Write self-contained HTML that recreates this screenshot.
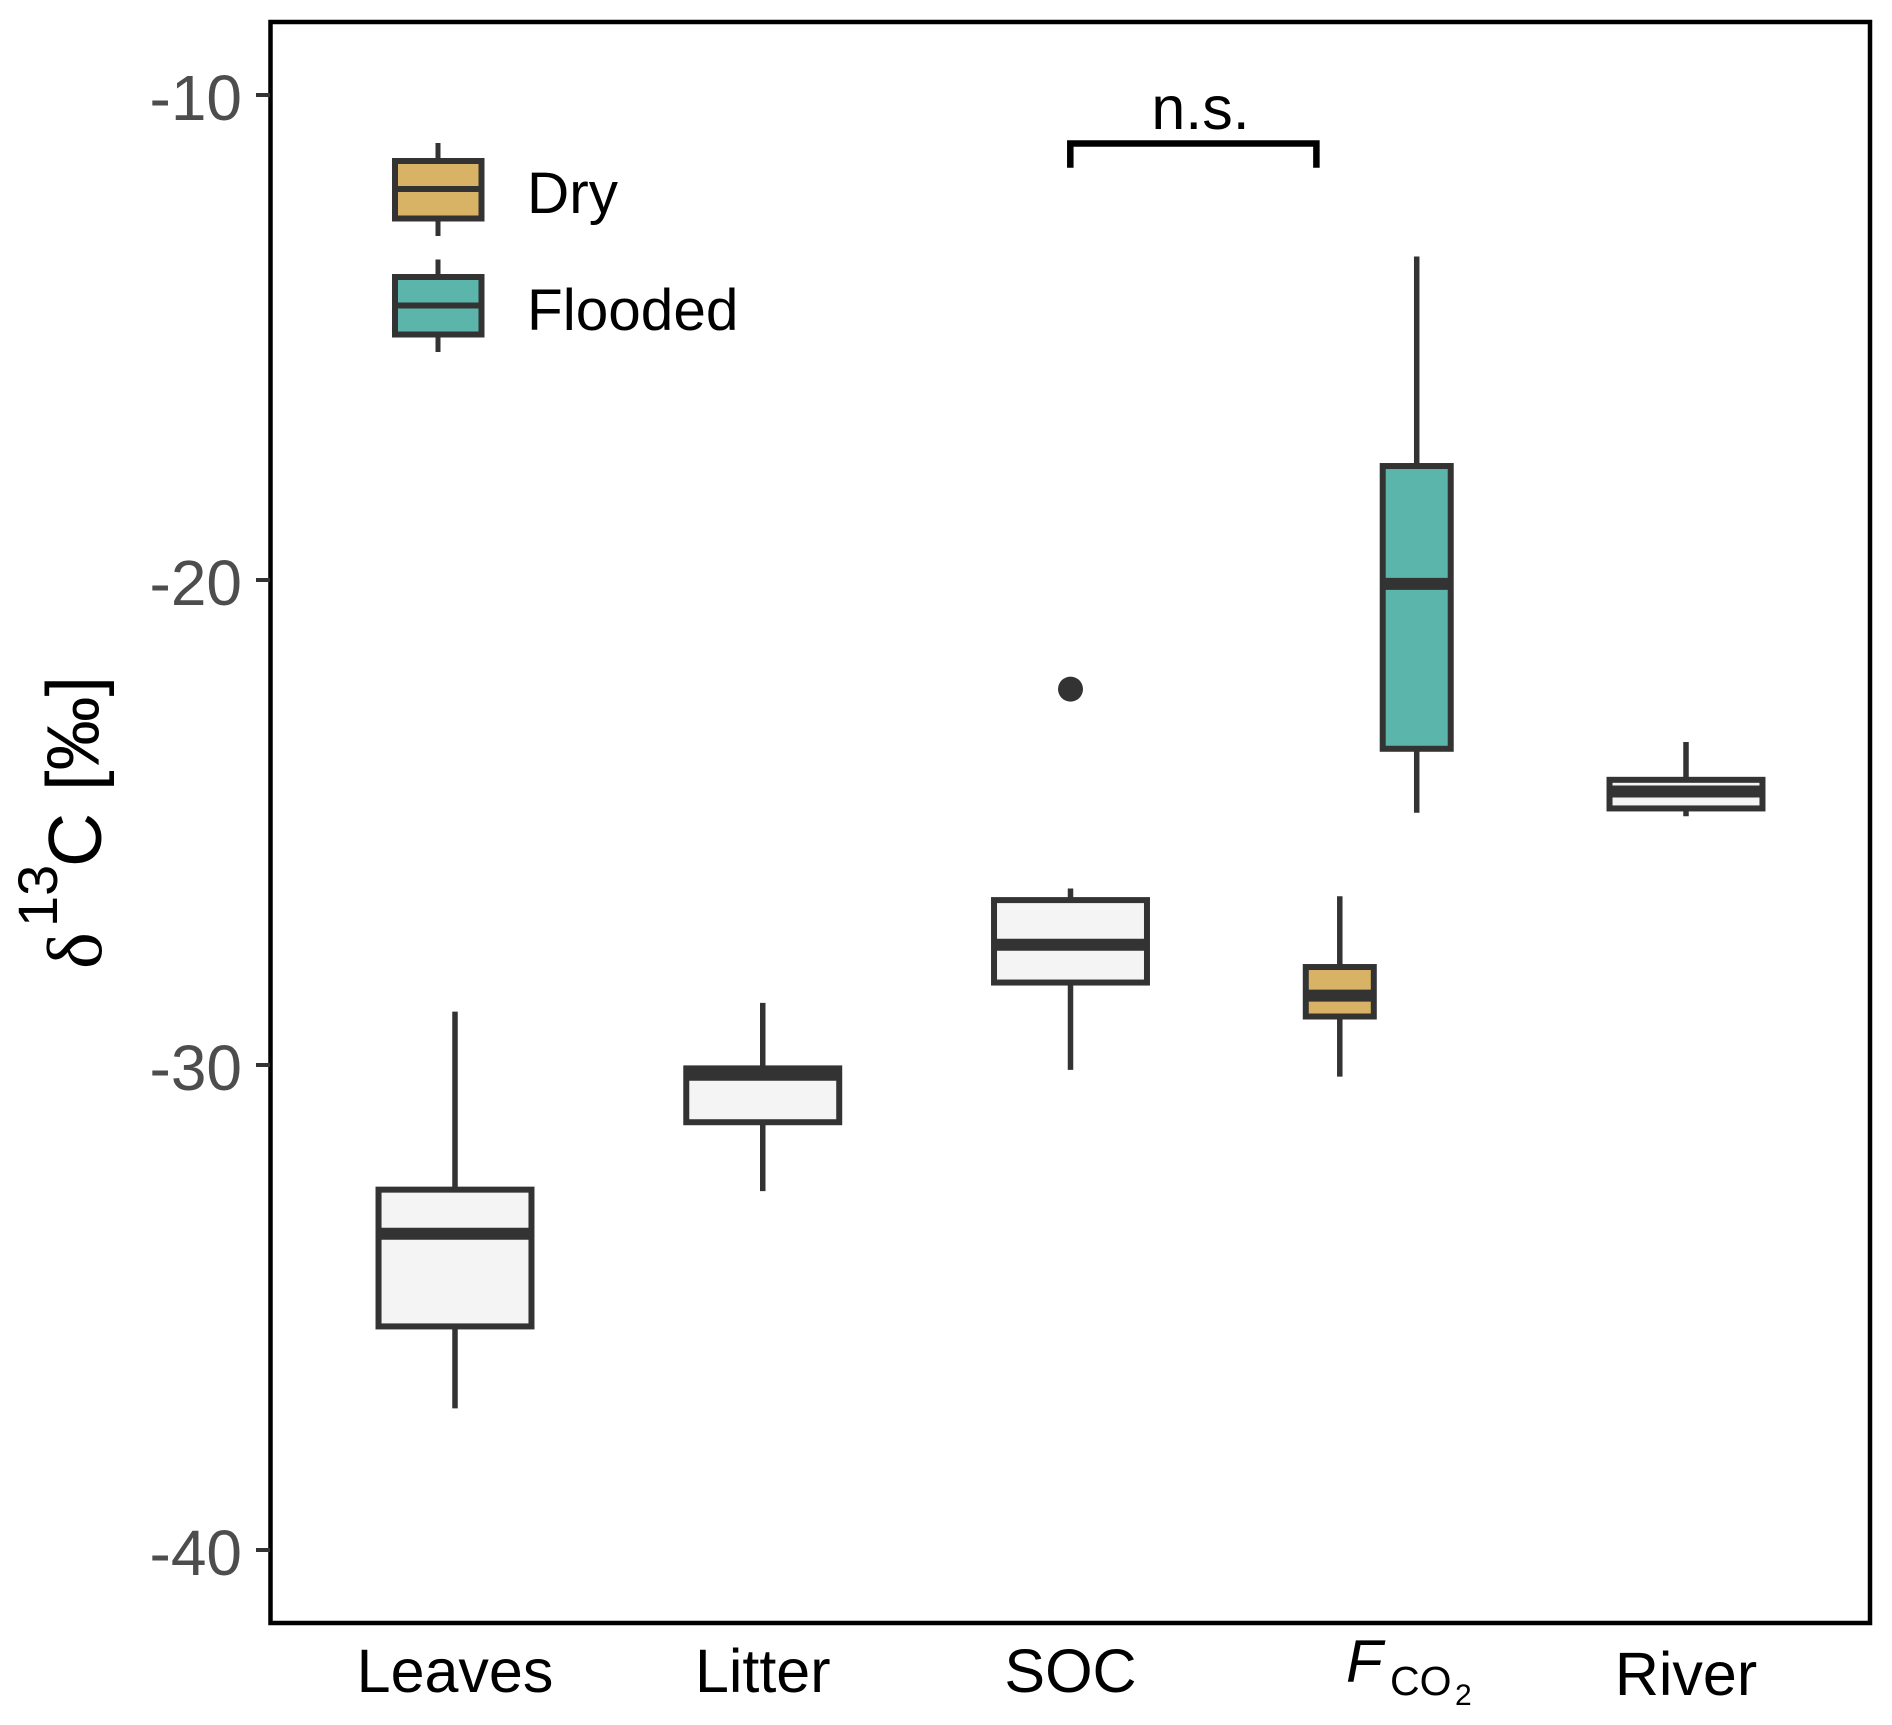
<!DOCTYPE html>
<html lang="en">
<head>
<meta charset="utf-8">
<title>δ13C boxplot</title>
<style>
html,body{margin:0;padding:0;background:#fff;}
svg{display:block;font-family:"Liberation Sans",sans-serif;}
</style>
</head>
<body>
<svg id="chart" xmlns="http://www.w3.org/2000/svg" width="1892" height="1725" viewBox="0 0 1892 1725">
  <rect x="0" y="0" width="1892" height="1725" fill="#fff"/>
  <g id="marks"></g>
  <rect x="270.5" y="22" width="1599.5" height="1601" fill="none" stroke="#000" stroke-width="4.5"/>
  <g id="yticks"></g>
  <g id="xticks"></g>

  <g fill="#000">
    <text x="1346" y="1682" font-size="60" font-style="italic">F</text>
    <text x="1390" y="1695" font-size="41">CO</text>
    <text x="1455" y="1705" font-size="30">2</text>
  </g>

  <g fill="#000">
    <text transform="translate(101,969) rotate(-90)" font-size="78" font-family="'Liberation Serif',serif">δ</text>
    <text transform="translate(57,927) rotate(-90)" font-size="56">13</text>
    <text transform="translate(101,867) rotate(-90)" font-size="75">C</text>
    <text transform="translate(98.5,791) rotate(-90)" font-size="74">[‰]</text>
  </g>

  <g>
    <g>
      <line x1="438" x2="438" y1="143" y2="236" stroke="#333" stroke-width="5"/>
      <rect x="395" y="161" width="86.5" height="57.5" fill="#d9b365" stroke="#333" stroke-width="6"/>
      <line x1="395" x2="481.5" y1="189" y2="189" stroke="#333" stroke-width="6"/>
      <text x="527" y="213" font-size="58.5" fill="#000">Dry</text>
    </g>
    <g>
      <line x1="438" x2="438" y1="259.5" y2="352" stroke="#333" stroke-width="5"/>
      <rect x="395" y="277" width="86.5" height="57.5" fill="#5bb5aa" stroke="#333" stroke-width="6"/>
      <line x1="395" x2="481.5" y1="305.5" y2="305.5" stroke="#333" stroke-width="6"/>
      <text x="527" y="330" font-size="58.5" fill="#000">Flooded</text>
    </g>
  </g>

  <g>
    <path d="M1070.3 167.7 V143.5 H1316.4 V167.7" fill="none" stroke="#000" stroke-width="6.5"/>
    <text x="1200.5" y="129" font-size="61" fill="#000" text-anchor="middle">n.s.</text>
  </g>
</svg>
<script>
const yTickValues = [-10, -20, -30, -40];
const yTickLabels = ['-10', '-20', '-30', '-40'];
const xCategories = ['Leaves', 'Litter', 'SOC', 'FCO2', 'River'];

const boxNames = ['leaves', 'litter', 'soc', 'fco2-dry', 'fco2-flooded', 'river'];
const boxCategoryIndex = [0, 1, 2, 3, 3, 4];
const boxGroup = ['all', 'all', 'all', 'dry', 'flooded', 'all'];
const whiskerHigh = [-28.9, -28.72, -26.36, -26.52, -13.33, -23.34];
const upperQuartile = [-32.57, -30.07, -26.6, -27.98, -17.65, -24.12];
const medians = [-33.48, -30.2, -27.52, -28.57, -20.08, -24.36];
const lowerQuartile = [-35.39, -31.18, -28.3, -29.0, -23.48, -24.71];
const whiskerLow = [-37.08, -32.6, -30.1, -30.24, -24.8, -24.87];
const outlierCategoryIndex = [2];
const outlierValues = [-22.25];

const NS = 'http://www.w3.org/2000/svg';
const DARK = '#333';
const groupFill = { all: '#f4f4f4', dry: '#d9b365', flooded: '#5bb5aa' };
const groupDodge = { all: 0, dry: -0.125, flooded: 0.125 };
const groupWidth = { all: 0.497, dry: 0.221, flooded: 0.221 };

function yScale(v) { return 95 + (-10 - v) * 48.5; }
function xScale(c) { return 455 + c * 307.75; }

function make(tag, attrs) {
  const el = document.createElementNS(NS, tag);
  for (const k in attrs) el.setAttribute(k, attrs[k]);
  return el;
}

const marks = document.getElementById('marks');
const yticks = document.getElementById('yticks');
const xticks = document.getElementById('xticks');

yTickValues.forEach(function (v, i) {
  const y = yScale(v);
  const tick = make('line', { x1: 256, x2: 270, y1: y, y2: y, stroke: DARK, 'stroke-width': 4 });
  
  
  yticks.appendChild(tick);
  const label = make('text', { x: 242, y: y + 25, 'font-size': 64, fill: '#4d4d4d', 'text-anchor': 'end' });
  
  
  label.textContent = yTickLabels[i];
  yticks.appendChild(label);
});

xCategories.forEach(function (name, i) {
  if (name === 'FCO2') return;
  const label = make('text', {
    x: xScale(i), y: name === 'River' ? 1695 : 1692, 'font-size': 61, fill: '#000', 'text-anchor': 'middle'
  });
  
  
  label.textContent = name;
  xticks.appendChild(label);
});

boxNames.forEach(function (name, i) {
  const g = boxGroup[i];
  const cx = xScale(boxCategoryIndex[i] + groupDodge[g]);
  const w = groupWidth[g] * 307.75;
  const group = make('g', {});
  
  

  const whisker = make('line', {
    x1: cx, x2: cx, y1: yScale(whiskerHigh[i]), y2: yScale(whiskerLow[i]), stroke: DARK, 'stroke-width': 5.5
  });
  
  
  group.appendChild(whisker);

  const box = make('rect', {
    x: cx - w / 2, y: yScale(upperQuartile[i]), width: w,
    height: yScale(lowerQuartile[i]) - yScale(upperQuartile[i]),
    fill: groupFill[g], stroke: DARK, 'stroke-width': 6
  });
  
  
  group.appendChild(box);

  const median = make('line', {
    x1: cx - w / 2, x2: cx + w / 2, y1: yScale(medians[i]), y2: yScale(medians[i]), stroke: DARK, 'stroke-width': 12
  });
  
  
  group.appendChild(median);

  marks.appendChild(group);
});

outlierValues.forEach(function (v, i) {
  const dot = make('circle', { cx: xScale(outlierCategoryIndex[i]), cy: yScale(v), r: 12.5, fill: DARK });
  
  
  marks.appendChild(dot);
});
</script>
</body>
</html>
